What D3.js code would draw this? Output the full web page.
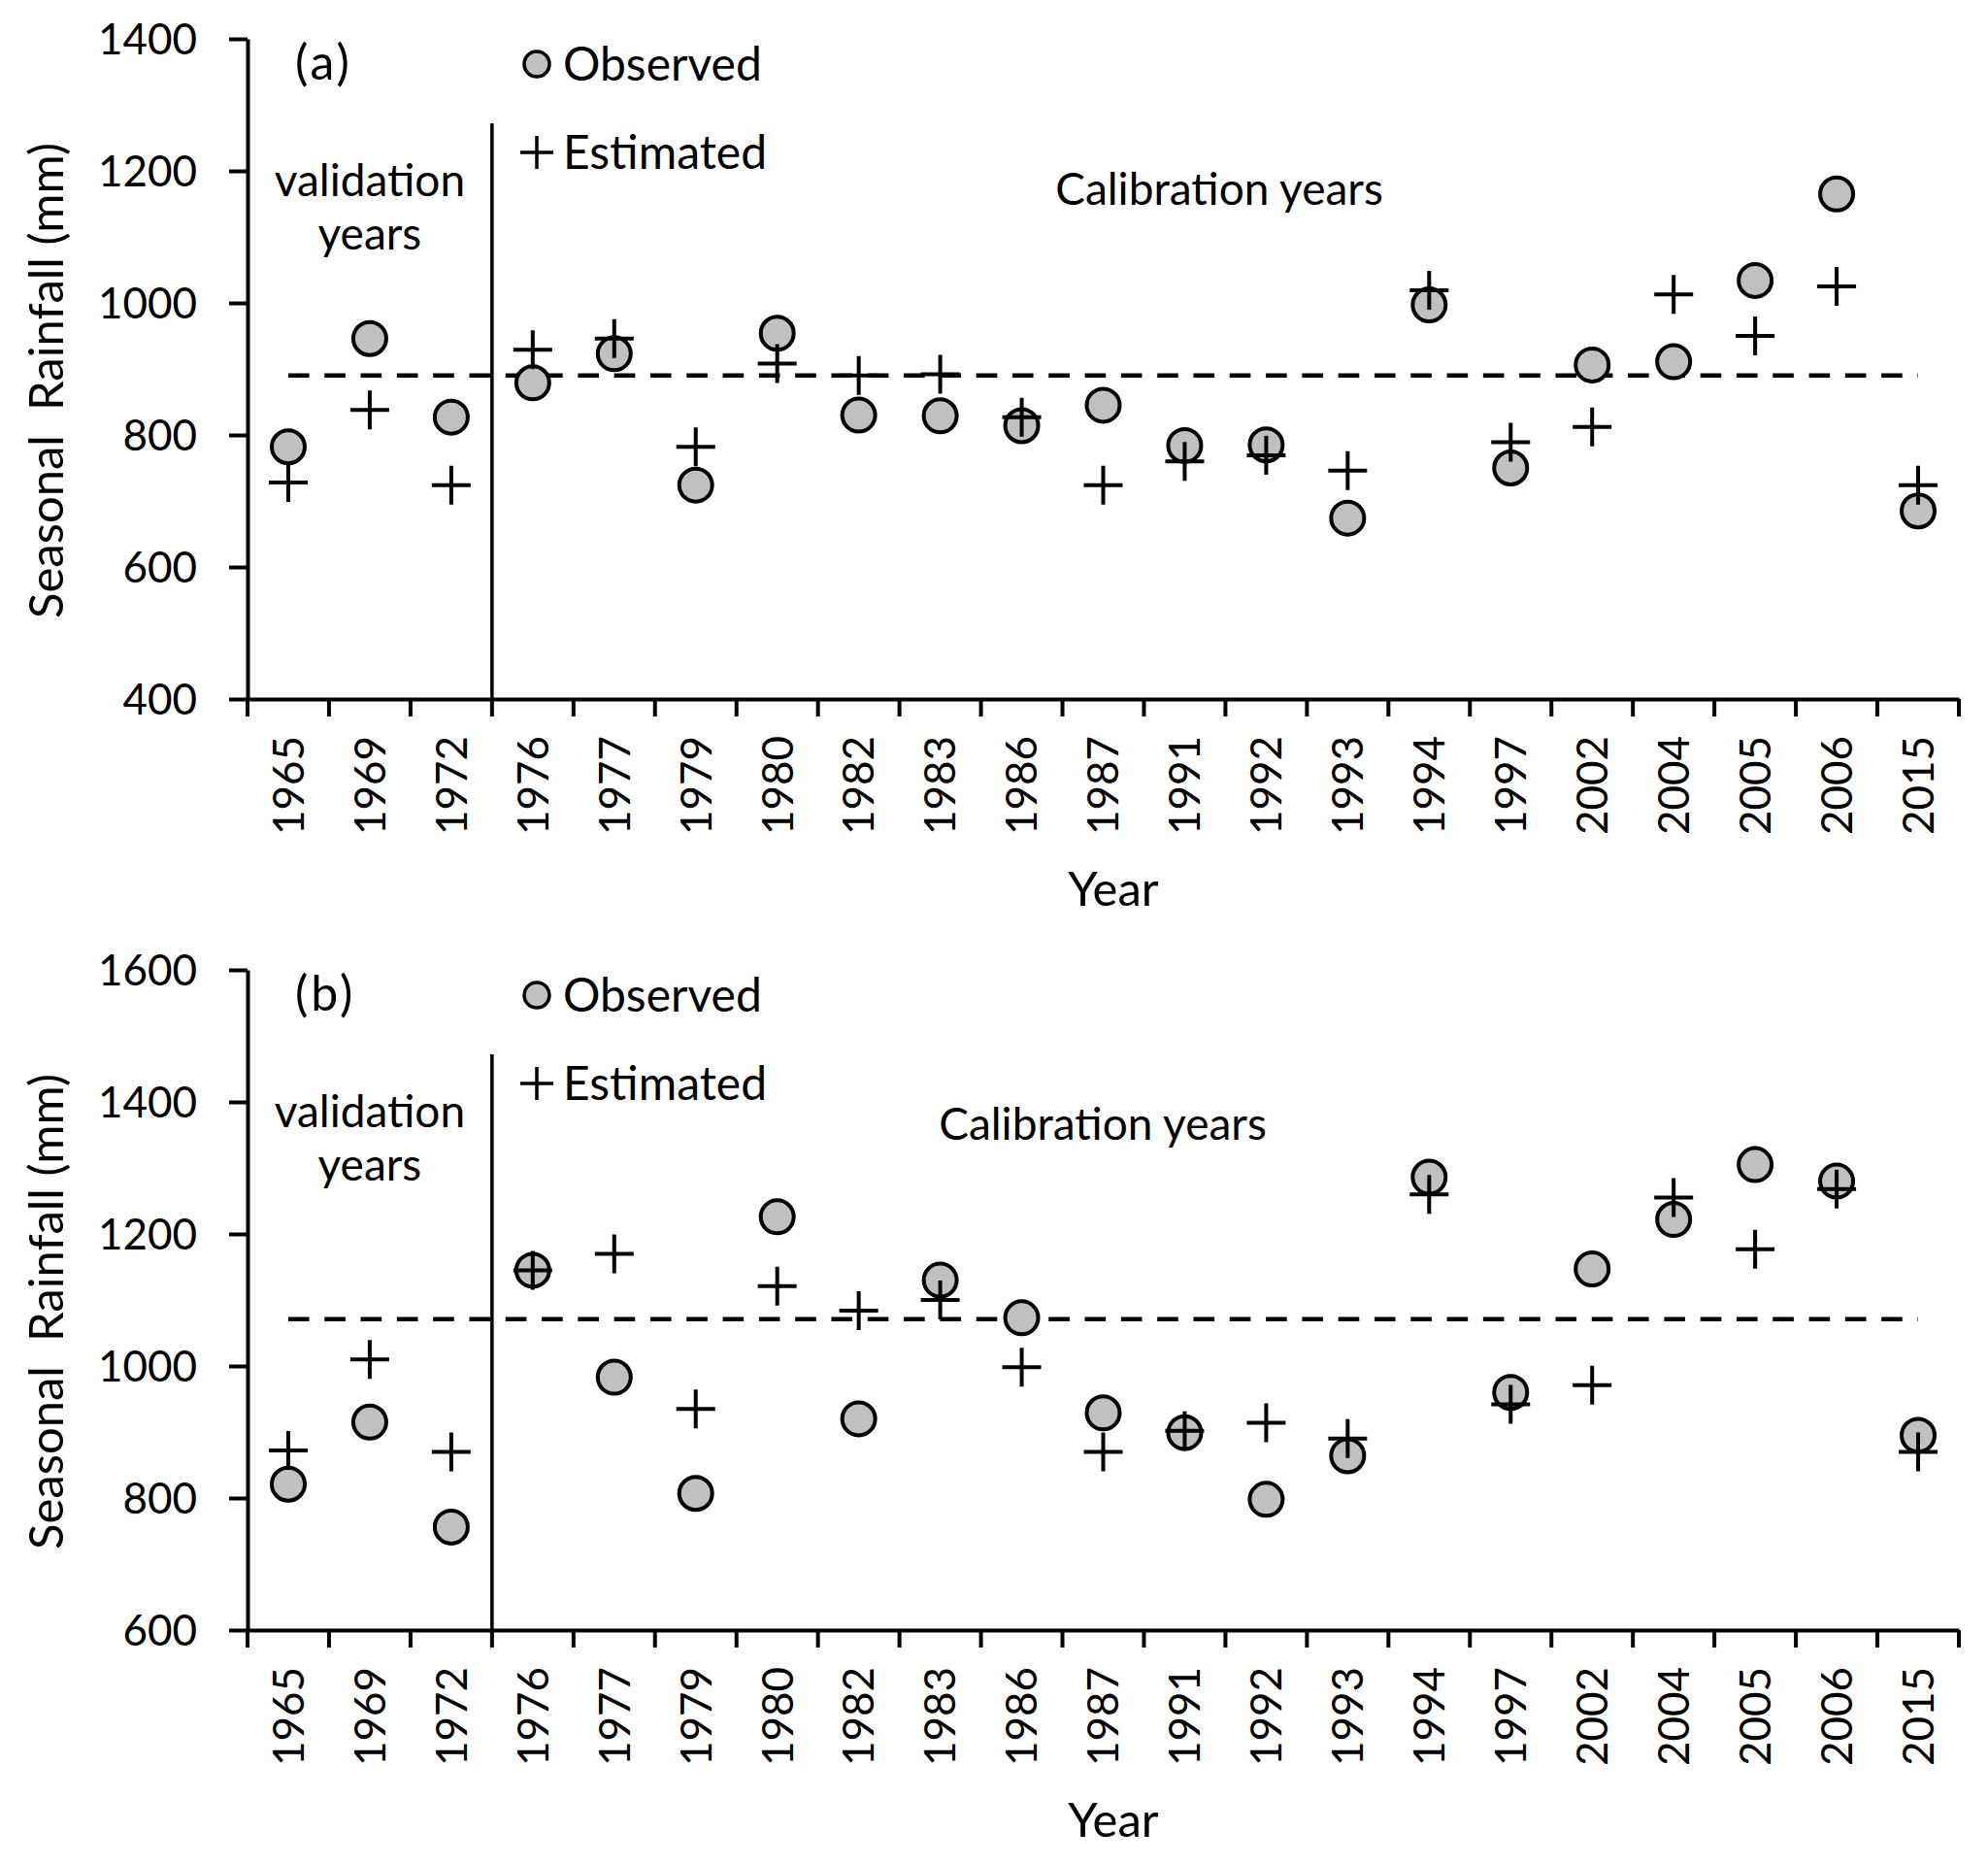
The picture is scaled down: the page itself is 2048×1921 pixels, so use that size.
<!DOCTYPE html>
<html>
<head>
<meta charset="utf-8">
<script src="https://cdn.jsdelivr.net/npm/d3@7"></script>
<style>
  body { margin: 0; background: #fff; }
  text { font-family: Lato, "Open Sans", sans-serif; fill: #000; }
</style>
</head>
<body>
<script>
// categories (years on the x axis)
var years = ["1965", "1969", "1972", "1976", "1977", "1979", "1980", "1982", "1983", "1986",
             "1987", "1991", "1992", "1993", "1994", "1997", "2002", "2004", "2005", "2006", "2015"];
var validationCount = 3; // first three years are validation years

// panel (a)
var observedA  = [782, 946, 827, 879, 923, 724, 954, 830, 829, 814, 845, 784, 785, 674, 997, 750, 906, 911, 1034, 1165, 685];
var estimatedA = [728, 838, 724, 929, 946, 782, 908, 890, 892, 827, 724, 760, 769, 746, 1019, 789, 812, 1013, 950, 1025, 724];
var meanA = 890;
var yTicksA = [400, 600, 800, 1000, 1200, 1400];

// panel (b)
var observedB  = [821, 915, 756, 1145, 983, 807, 1226, 920, 1130, 1073, 929, 899, 798, 864, 1286, 960, 1147, 1222, 1305, 1280, 895];
var estimatedB = [872, 1010, 870, 1145, 1170, 935, 1121, 1084, 1100, 998, 870, 902, 914, 890, 1260, 942, 971, 1255, 1177, 1268, 870];
var meanB = 1071;
var yTicksB = [600, 800, 1000, 1200, 1400, 1600];

var W = 2048, H = 1921;
var left = 255, right = 2018, ph = 680;

var svg = d3.select("body").append("svg")
    .attr("width", W).attr("height", H);

var x = d3.scaleBand().domain(years).range([left, right]).padding(0);
var bw = x.bandwidth();

function cross(s) {
    var h = s / 2;
    return "M" + (-h) + ",0H" + h + "M0," + (-h) + "V" + h;
}

function drawPanel(top, label, obs, est, mean, ticks, calibX, calibY) {
    var g = svg.append("g").attr("transform", "translate(0," + top + ")");
    var y = d3.scaleLinear().domain([ticks[0], ticks[ticks.length - 1]]).range([ph, 0]);

    // y axis
    var ya = g.append("g")
        .attr("transform", "translate(" + left + ",0)")
        .call(d3.axisLeft(y).tickValues(ticks).tickFormat(d3.format("d"))
            .tickSize(19).tickPadding(33).tickSizeOuter(0));
    ya.attr("font-family", null).attr("font-size", 44);
    ya.selectAll("path, line").attr("stroke", "#000").attr("stroke-width", 4);
    ya.selectAll("text").attr("dy", "0.36em");

    // x axis, labels only (ticks sit on the band edges)
    var xa = g.append("g")
        .attr("transform", "translate(0," + ph + ")")
        .call(d3.axisBottom(x).tickSize(0).tickSizeOuter(0));
    xa.attr("font-family", null).attr("font-size", 44);
    xa.select(".domain").attr("stroke", "#000").attr("stroke-width", 4);
    xa.selectAll(".tick text")
        .attr("transform", "rotate(-90)")
        .attr("text-anchor", "end")
        .attr("x", -38).attr("y", 0).attr("dy", "0.36em");

    var edges = years.map(function (d) { return x(d); }).concat([right]);
    xa.selectAll("line.edge")
        .data(edges)
        .enter().append("line")
        .attr("class", "edge")
        .attr("x1", d => d).attr("x2", d => d)
        .attr("y1", 0).attr("y2", 18)
        .attr("stroke", "#000").attr("stroke-width", 4);

    // validation / calibration divider
    var xDiv = x(years[validationCount]);
    g.append("line")
        .attr("x1", xDiv).attr("x2", xDiv)
        .attr("y1", 87).attr("y2", ph)
        .attr("stroke", "#000").attr("stroke-width", 3.5);

    // mean line
    var line = d3.line()
        .x(d => x(d) + bw / 2)
        .y(() => y(mean));
    g.append("path")
        .datum(years)
        .attr("d", line)
        .attr("fill", "none")
        .attr("stroke", "#000")
        .attr("stroke-width", 4.5)
        .attr("stroke-dasharray", "21.6,15.7");

    // observed
    g.selectAll("circle.obs")
        .data(obs)
        .enter().append("circle")
        .attr("class", "obs")
        .attr("cx", (d, i) => x(years[i]) + bw / 2)
        .attr("cy", d => y(d))
        .attr("r", 17)
        .attr("fill", "#c0c0c0")
        .attr("stroke", "#000")
        .attr("stroke-width", 4);

    // estimated
    g.selectAll("path.est")
        .data(est)
        .enter().append("path")
        .attr("class", "est")
        .attr("transform", (d, i) => "translate(" + (x(years[i]) + bw / 2) + "," + y(d) + ")")
        .attr("d", cross(40))
        .attr("fill", "none")
        .attr("stroke", "#000")
        .attr("stroke-width", 4);

    // legend
    g.append("circle")
        .attr("cx", 553).attr("cy", 26).attr("r", 13)
        .attr("fill", "#c0c0c0").attr("stroke", "#000").attr("stroke-width", 3.5);
    g.append("text").attr("x", 580).attr("y", 43).attr("font-size", 48).text("Observed");
    g.append("path")
        .attr("transform", "translate(553,117)")
        .attr("d", cross(34))
        .attr("stroke", "#000").attr("stroke-width", 3.5);
    g.append("text").attr("x", 580).attr("y", 134).attr("font-size", 48).text("Estimated");

    // annotations
    g.append("text").attr("x", 304).attr("y", 42).attr("font-size", 50)
        .attr("letter-spacing", 3).text(label);
    var xv = (x(years[0]) + xDiv) / 2;
    g.append("text").attr("x", xv).attr("y", 162).attr("text-anchor", "middle")
        .attr("font-size", 46).text("validation");
    g.append("text").attr("x", xv).attr("y", 217).attr("text-anchor", "middle")
        .attr("font-size", 46).text("years");
    g.append("text").attr("x", calibX).attr("y", calibY).attr("text-anchor", "middle")
        .attr("font-size", 46).text("Calibration years");

    // axis titles
    g.append("text")
        .attr("transform", "translate(65," + (ph / 2 + 12) + ") rotate(-90)")
        .attr("text-anchor", "middle")
        .attr("font-size", 49)
        .style("white-space", "pre")
        .text("Seasonal  Rainfall (mm)");
    g.append("text")
        .attr("x", 1147).attr("y", 893)
        .attr("text-anchor", "middle")
        .attr("font-size", 49)
        .text("Year");
}

drawPanel(40, "(a)", observedA, estimatedA, meanA, yTicksA, 1256, 171);
drawPanel(999, "(b)", observedB, estimatedB, meanB, yTicksB, 1136, 175);
</script>
</body>
</html>
